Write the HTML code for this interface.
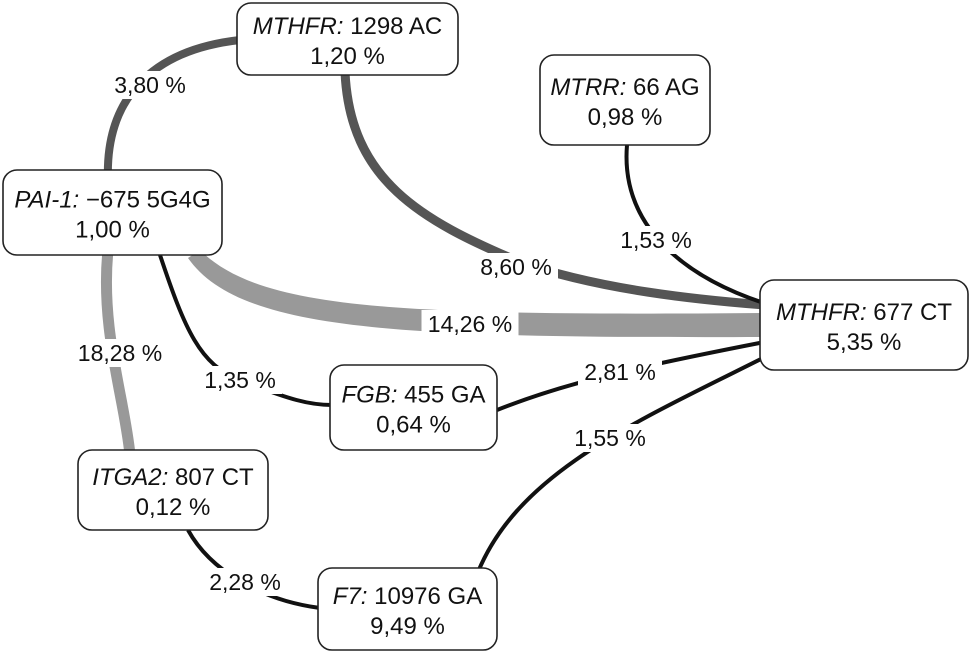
<!DOCTYPE html>
<html><head><meta charset="utf-8">
<style>
html,body{margin:0;padding:0;background:#fff;}
svg{display:block;font-family:"Liberation Sans",sans-serif;}
.lbl{font-size:23px;fill:#111;}
.nt{font-size:24px;fill:#111;}
</style></head>
<body>
<svg id="chart" width="975" height="658" viewBox="0 0 975 658" xmlns="http://www.w3.org/2000/svg">
<g id="edges"></g>
<g id="labels"></g>
<g id="nodes"></g>
</svg>
<script>
// node data
const nodeGenes = ["MTHFR:", "MTRR:", "PAI-1:", "MTHFR:", "FGB:", "ITGA2:", "F7:"];
const nodeVariants = ["1298 AC", "66 AG", "\u2212675 5G4G", "677 CT", "455 GA", "807 CT", "10976 GA"];
const nodeValues = ["1,20 %", "0,98 %", "1,00 %", "5,35 %", "0,64 %", "0,12 %", "9,49 %"];
// edge data
const edgeValues = ["3,80 %", "8,60 %", "1,53 %", "14,26 %", "18,28 %", "1,35 %", "2,81 %", "1,55 %", "2,28 %"];

// layout (not data)
const nodeBoxes = [[237,3,221,72],[540,55,170,90],[3,170,219,85],[760,280,208,90],[330,365,167,85],[78,450,190,80],[318,568,179,82]];
const edgePaths = [
 "M240,40 C150,50 105,100 108,180",
 "M345,72 C350,180 420,220 520,262 C600,290 700,300 765,305",
 "M627,145 C620,230 690,280 770,305",
 "M200,250 C260,310 400,316 765,313 L765,337 C400,338 240,332 188,258 Z",
 "M108,250 C100,330 125,400 130,455",
 "M160,255 C185,330 200,365 240,380 C290,400 310,405 332,405",
 "M497,410 C560,385 620,370 775,340",
 "M478,572 C520,470 640,420 775,352",
 "M188,530 C210,570 260,600 320,608"];
const edgeStyles = [["#555",8],["#555",9],["#111",4],["#999",0],["#999",11],["#111",4],["#111",4],["#111",4],["#111",4]];
const labelPos = [[150,85],[516,267],[656,240],[470,324],[120,353],[240,380],[620,372],[610,438],[245,582]];
const NS="http://www.w3.org/2000/svg";
const eg=document.getElementById('edges'), lg=document.getElementById('labels'), ng=document.getElementById('nodes');
edgeValues.forEach((v,i)=>{
  const p=document.createElementNS(NS,'path');
  p.setAttribute('d',edgePaths[i]);
  const [c,w]=edgeStyles[i];
  if(w===0){p.setAttribute('fill',c);}else{p.setAttribute('fill','none');p.setAttribute('stroke',c);p.setAttribute('stroke-width',w);}
  
  
  eg.appendChild(p);
  const [x,y]=labelPos[i];
  const t=document.createElementNS(NS,'text');
  t.setAttribute('x',x);t.setAttribute('y',y+8);t.setAttribute('text-anchor','middle');t.setAttribute('class','lbl');
  t.textContent=v;
  
  
  const r=document.createElementNS(NS,'rect');
  const w2=v.length*13;
  r.setAttribute('x',x-w2/2-3);r.setAttribute('y',y-14);r.setAttribute('width',w2+6);r.setAttribute('height',28);r.setAttribute('fill','#fff');
  
  
  lg.appendChild(r);lg.appendChild(t);
});
nodeGenes.forEach((g,i)=>{
  const [x,y,w,h]=nodeBoxes[i];
  const grp=document.createElementNS(NS,'g');
  
  
  const r=document.createElementNS(NS,'rect');
  r.setAttribute('x',x);r.setAttribute('y',y);r.setAttribute('width',w);r.setAttribute('height',h);r.setAttribute('rx',14);
  r.setAttribute('fill','#fff');r.setAttribute('stroke','#222');r.setAttribute('stroke-width',1.6);
  
  
  grp.appendChild(r);
  const cx=x+w/2, cy=y+h/2;
  const t1=document.createElementNS(NS,'text');
  t1.setAttribute('x',cx);t1.setAttribute('y',cy-5);t1.setAttribute('text-anchor','middle');t1.setAttribute('class','nt');
  
  
  const s1=document.createElementNS(NS,'tspan');s1.setAttribute('font-style','italic');s1.textContent=g;
  const s2=document.createElementNS(NS,'tspan');s2.textContent=' '+nodeVariants[i];
  t1.appendChild(s1);t1.appendChild(s2);
  const t2=document.createElementNS(NS,'text');
  t2.setAttribute('x',cx);t2.setAttribute('y',cy+25);t2.setAttribute('text-anchor','middle');t2.setAttribute('class','nt');
  t2.textContent=nodeValues[i];
  
  
  grp.appendChild(t1);grp.appendChild(t2);
  ng.appendChild(grp);
});
</script>
</body></html>
